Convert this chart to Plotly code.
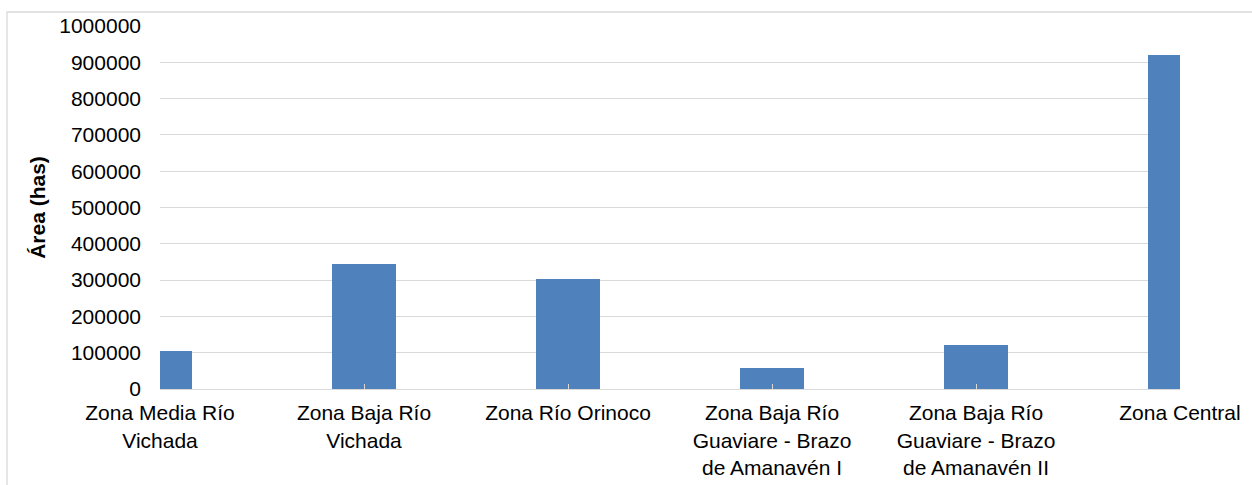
import plotly.graph_objects as go

categories = ["Zona Media Río Vichada", "Zona Baja Río Vichada", "Zona Río Orinoco",
              "Zona Baja Río Guaviare - Brazo de Amanavén I",
              "Zona Baja Río Guaviare - Brazo de Amanavén II", "Zona Central"]
tick_labels = ["Zona Media Río<br>Vichada", "Zona Baja Río<br>Vichada", "Zona Río Orinoco",
               "Zona Baja Río<br>Guaviare - Brazo<br>de Amanavén I",
               "Zona Baja Río<br>Guaviare - Brazo<br>de Amanavén II", "Zona Central"]
area_has = [104000, 345000, 304000, 56500, 122500, 921000]
y_ticks = [0, 100000, 200000, 300000, 400000, 500000, 600000, 700000, 800000, 900000, 1000000]

W, H = 1252, 485
L, R, T, B = 160, 72, 26, 96
font = "Liberation Sans, Arial, sans-serif"
FS = 21

fig = go.Figure(go.Bar(x=categories, y=area_has, marker=dict(color="#4f81bd", line=dict(width=0)),
                       width=0.314))

fig.update_layout(
    width=W, height=H,
    margin=dict(l=L, r=R, t=T, b=B, pad=0, autoexpand=False),
    paper_bgcolor="white", plot_bgcolor="white",
    font=dict(family=font, size=FS, color="#000000"),
    showlegend=False,
    bargap=0,
)
fig.update_xaxes(
    type="category", range=[0, 5], tickvals=categories, ticktext=tick_labels,
    showline=True, linecolor="#d9d9d9", linewidth=1,
    ticks="inside", ticklen=5, tickcolor="#d9d9d9", tickwidth=1,
    showgrid=False, ticklabelstandoff=5, automargin=False,
    tickfont=dict(size=FS),
)
fig.update_yaxes(
    range=[0, 1000000], tickvals=y_ticks, ticktext=[str(v) for v in y_ticks],
    showgrid=True, gridcolor="#d9d9d9", gridwidth=1,
    zeroline=False, showline=False, ticks="", automargin=False,
    ticklabelstandoff=18, tickfont=dict(size=FS),
    title=dict(text="<b>Área (has)</b>", font=dict(size=FS), standoff=7),
)

pw = W - L - R
ph = H - T - B
fig.add_shape(type="rect", xref="paper", yref="paper",
              x0=(7 - L) / pw, x1=(W + 20 - L) / pw,
              y0=-(H + 20 - T - ph) / ph, y1=(H - B - 12) / ph,
              line=dict(color="#d9d9d9", width=1.3), fillcolor="rgba(0,0,0,0)", layer="below")

fig.write_html("out.html")
